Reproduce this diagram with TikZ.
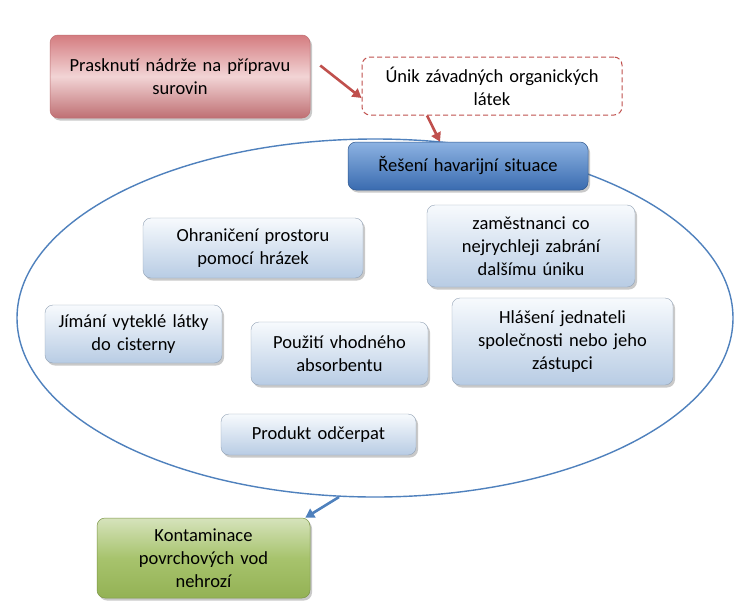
\documentclass[tikz,border=0pt]{standalone}
\usepackage{fontspec}
\setmainfont{Carlito}
\usetikzlibrary{shadows,arrows.meta}
\definecolor{redA}{HTML}{D47C80}
\definecolor{redB}{HTML}{F2D4D5}
\definecolor{redLine}{HTML}{C0504D}
\definecolor{blueLine}{HTML}{4F81BD}
\definecolor{hdrTop}{HTML}{8DB3E2}
\definecolor{hdrBot}{HTML}{3A6BB0}
\definecolor{lbTop}{HTML}{F7FAFD}
\definecolor{lbBot}{HTML}{B8CCE4}
\definecolor{grTop}{HTML}{D6E3BC}
\definecolor{grBot}{HTML}{9BBB59}
\tikzset{
  txt/.style={font=\fontsize{18.5}{23}\selectfont, align=center, inner sep=2pt},
  basebox/.style={txt, rounded corners=8pt, drop shadow={shadow xshift=2pt, shadow yshift=-2.5pt, opacity=0.35, fill=black!60}},
  redbox/.style={basebox, draw=redA!90!black, line width=0.5pt, top color=redA, bottom color=redA!90!black, middle color=redB},
  dashbox/.style={txt, rounded corners=8pt, draw=redLine, dash pattern=on 5pt off 3pt, line width=1pt, fill=white},
  hdrbox/.style={basebox, draw=hdrBot!80!black, line width=0.5pt, top color=hdrTop, bottom color=hdrBot},
  lbbox/.style={basebox, draw=lbBot!80!black, line width=0.4pt, top color=lbTop, bottom color=lbBot},
  grbox/.style={basebox, draw=grBot!80!black, line width=0.5pt, top color=grTop, bottom color=grBot!95!black, middle color=grBot!88!white},
  redarrow/.style={draw=redLine, line width=2.6pt, -{Triangle[length=9pt,width=10pt]}},
  bluearrow/.style={draw=blueLine, line width=2.6pt, -{Triangle[length=9pt,width=10pt]}},
}
\begin{document}
\begin{tikzpicture}[x=1pt,y=-1pt]
\useasboundingbox[fill=white] (0,0) rectangle (735,605);
% ellipse
\draw[blueLine, line width=1.4pt] (375,318) ellipse [x radius=358, y radius=179];
\coordinate (ebot) at (339,497);
% nodes
\node[redbox, minimum width=260pt, minimum height=83pt, text width=250pt] (a) at (180,76.5) {Prasknutí nádrže na přípravu\\surovin};
\node[dashbox, minimum width=260pt, minimum height=58pt, text width=250pt] (b) at (492,86) {Únik závadných organických\\látek};
\node[hdrbox, minimum width=240pt, minimum height=48pt, text width=230pt] (c) at (468,166) {Řešení havarijní situace};
\node[lbbox, minimum width=220pt, minimum height=60pt, text width=210pt] (d) at (253,248) {Ohraničení prostoru\\pomocí hrázek};
\node[lbbox, minimum width=208pt, minimum height=82pt, text width=200pt] (e) at (531,246) {zaměstnanci co\\nejrychleji zabrání\\dalšímu úniku};
\node[lbbox, minimum width=177pt, minimum height=58pt, text width=170pt] (f) at (133.5,334) {Jímání vyteklé látky\\do cisterny};
\node[lbbox, minimum width=177pt, minimum height=63pt, text width=170pt] (g) at (339.5,353.5) {Použití vhodného\\absorbentu};
\node[lbbox, minimum width=221pt, minimum height=87pt, text width=210pt] (h) at (562.5,341.5) {Hlášení jednateli\\společnosti nebo jeho\\zástupci};
\node[lbbox, minimum width=195pt, minimum height=41pt, text width=185pt] (i) at (318.5,434.5) {Produkt odčerpat};
\node[grbox, minimum width=213pt, minimum height=80pt, text width=205pt] (k) at (203.5,558) {Kontaminace\\povrchových vod\\nehrozí};
% arrows
\draw[redarrow] ([xshift=10pt,yshift=11pt]a.east) -- ([yshift=-12pt]b.west);
\draw[redarrow] ([xshift=-65pt]b.south) -- ([xshift=-28pt]c.north);
\draw[bluearrow] (ebot) -- ([xshift=-5pt]k.north east);
\end{tikzpicture}
\end{document}
